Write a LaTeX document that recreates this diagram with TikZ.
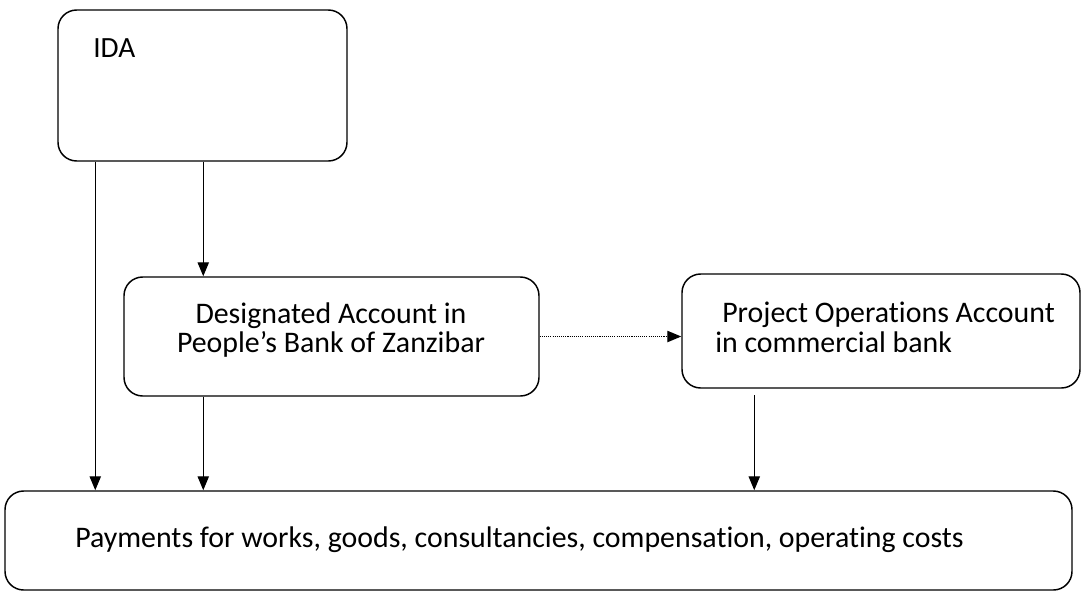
\documentclass[tikz,border=0pt]{standalone}
\usepackage{fontspec}
\setmainfont{Carlito}[RawFeature={-liga}]
\usetikzlibrary{arrows.meta}
\begin{document}
\begin{tikzpicture}[x=0.75pt,y=-0.75pt,
  box/.style={draw,line width=1.1pt,rounded corners=14pt,inner sep=0pt},
  txt/.style={inner sep=0pt,font=\fontsize{22.4}{26}\selectfont},
  arr/.style={line width=1pt,-{Triangle[length=10.5pt,width=8.5pt]}},
  dotarr/.style={line width=1pt,dash pattern=on 0.8pt off 0.8pt,-{Triangle[length=10.5pt,width=8.5pt]}}]
\useasboundingbox (0,0) rectangle (1083,593);
% boxes
\node[box,minimum width=216.75pt,minimum height=113.25pt] (ida) at (202.5,85.5) {};
\node[box,minimum width=311.25pt,minimum height=89.25pt] (des) at (331.5,336.5) {};
\node[box,minimum width=298.5pt,minimum height=85.5pt] (proj) at (881,331) {};
\node[box,minimum width=800.25pt,minimum height=74.25pt] (pay) at (538.5,540.5) {};
% texts
\node[txt,anchor=base west,font=\fontsize{22}{26}\selectfont] (idat) at (93,57) {IDA};
\node[txt,anchor=base] (des1) at (331,323) {Designated Account in};
\node[txt,anchor=base] (des2) at (331,352) {People’s Bank of Zanzibar};
\node[txt,anchor=base west] (proj1) at (722,322) {Project Operations Account};
\node[txt,anchor=base west] (proj2) at (715,352) {in commercial bank};
\node[txt,anchor=base west] (payt) at (75,547) {Payments for works, goods, consultancies, compensation, operating costs};
% connectors
\coordinate (a1) at ([xshift=28.5pt]ida.south west);
\coordinate (a2) at ([xshift=109.5pt]ida.south west);
\coordinate (a3) at ([xshift=60pt]des.south west);
\coordinate (a4) at ([xshift=54.75pt]proj.south west);
\draw[arr] (a1) -- (a1 |- pay.north);
\draw[arr] (a2) -- (a2 |- des.north);
\draw[arr] (a3) -- (a3 |- pay.north);
\draw[arr] ([yshift=-5pt]a4) -- (a4 |- pay.north);
\draw[dotarr] (des.east) -- (proj.west |- des.east);
\end{tikzpicture}
\end{document}
